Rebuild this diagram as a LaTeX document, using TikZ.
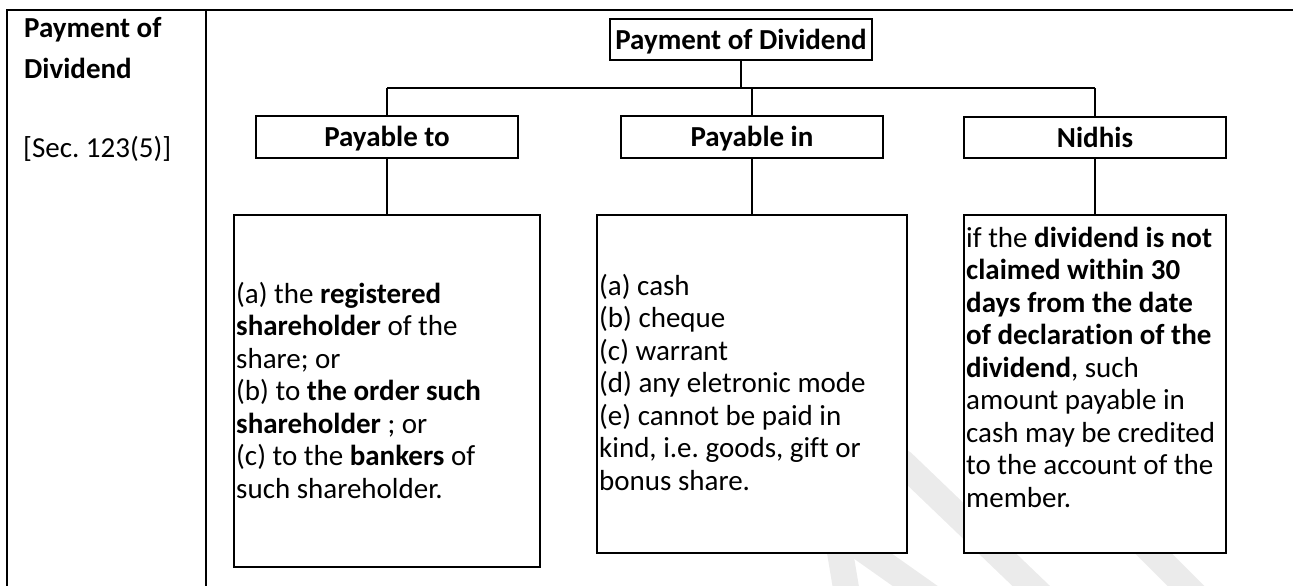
\documentclass[tikz,border=0pt]{standalone}
\usepackage{fontspec}
\setmainfont[Ligatures={NoCommon}]{Carlito}
\definecolor{wm}{RGB}{235,235,235}
\begin{document}
\frenchspacing
\begin{tikzpicture}[x=1pt,y=-1pt,
  box/.style={draw, line width=2.2pt, fill=white, inner sep=0pt, rectangle},
  head/.style={box, font=\fontsize{29}{32.5}\selectfont\bfseries, text height=21pt, text depth=2pt},
  conn/.style={line width=2pt},
  body/.style={anchor=north west, inner sep=0pt, align=left, font=\fontsize{29}{32.5}\selectfont},
  side/.style={anchor=base west, inner sep=0pt, font=\fontsize{29}{32.5}\selectfont},
  gridline/.style={line width=2.4pt},
  wmark/.style={draw=wm, line width=26pt}]
\useasboundingbox (0,0) rectangle (1293,586);
% watermark
\begin{scope}
\clip (0,0) rectangle (1293,586);
\draw[wmark, line cap=round] (902,462) -- (1050,604);
\draw[wmark] (1100,500) -- (1215,615);
\draw[wmark] (838,540) -- (848,600);
\draw[wmark] (850,540) -- (935,600);
\end{scope}
% table frame
\coordinate (tl) at (7,10);
\coordinate (tr) at (1293,10);
\coordinate (bl) at (7,586);
\coordinate (dt) at (206,10);
\coordinate (db) at (206,586);
\draw[gridline] (tr) -- (tl) -- (bl);
\draw[gridline] (dt) -- (db);
% side texts
\node[side, font=\fontsize{29}{32.5}\selectfont\bfseries] (s1) at (24,37.5) {Payment of};
\node[side, font=\fontsize{29}{32.5}\selectfont\bfseries] (s2) at (24,78) {Dividend};
\node[side] (s3) at (23,157) {[Sec. 123(5)]};
% chart
\node[head, minimum width=262pt, minimum height=41pt] (top) at (741,39.5) {Payment of Dividend};
\node[head, minimum width=262pt, minimum height=42pt] (pto) at (387,137) {Payable to};
\node[head, minimum width=262pt, minimum height=42pt] (pin) at (752,137) {Payable in};
\node[head, minimum width=262pt, minimum height=41pt] (nid) at (1095,137.5) {Nidhis};
\node[box, minimum width=306pt, minimum height=352pt] (b1) at (387,391) {};
\node[box, minimum width=310pt, minimum height=338pt] (b2) at (752,384) {};
\node[box, minimum width=262pt, minimum height=338pt] (b3) at (1095,384) {};
\coordinate (busL) at (387,88);
\coordinate (busR) at (1095,88);
\draw[conn] (top.south) -- (top.south |- busL);
\draw[conn] (busL) -- (busR);
\draw[conn] (busL) -- (pto.north);
\draw[conn] (pin.north |- busL) -- (pin.north);
\draw[conn] (busR) -- (nid.north);
\draw[conn] (pto.south) -- (b1.north);
\draw[conn] (pin.south) -- (b2.north);
\draw[conn] (nid.south) -- (b3.north);
% box texts
\node[body] (t1) at (236,279) {\rule{0pt}{24pt}(a) the \textbf{registered}\\
\textbf{shareholder} of the\\
share; or\\
(b) to \textbf{the order such}\\
\textbf{shareholder} ; or\\
(c) to the \textbf{bankers} of\\
such shareholder.};
\node[body] (t2) at (599,271) {\rule{0pt}{24pt}(a) cash\\
(b) cheque\\
(c) warrant\\
(d) any eletronic mode\\
(e) cannot be paid in\\
kind, i.e. goods, gift or\\
bonus share.};
\node[body] (t3) at (966,223) {\rule{0pt}{24pt}if the \textbf{dividend is not}\\
\textbf{claimed within 30}\\
\textbf{days from the date}\\
\textbf{of declaration of the}\\
\textbf{dividend}, such\\
amount payable in\\
cash may be credited\\
to the account of the\\
member.};
\end{tikzpicture}
\end{document}
